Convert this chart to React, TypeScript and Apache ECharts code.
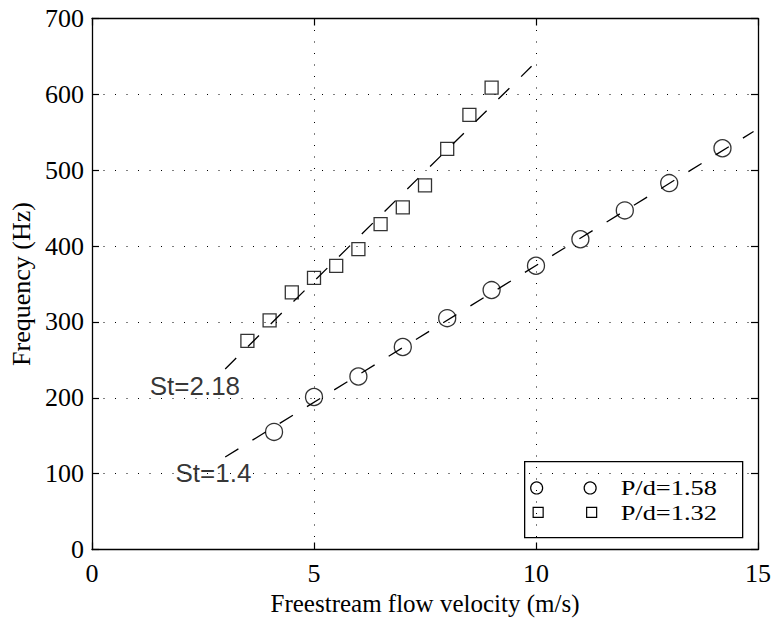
import React, { useEffect, useRef } from "react";
import * as echarts from "echarts";

// P/d = 1.58 (circles): [velocity m/s, frequency Hz]
const circlePoints: number[][] = [
  [4.1, 155], [5, 201], [6, 228], [7, 267], [8, 305], [9, 342],
  [10, 374], [11, 409], [12, 447], [13, 483], [14.2, 529],
];
// P/d = 1.32 (squares)
const squarePoints: number[][] = [
  [3.5, 275], [4, 302], [4.5, 339], [5, 358], [5.5, 374], [6, 396],
  [6.5, 429], [7, 451], [7.5, 480], [8, 528], [8.5, 573], [9, 609],
];
// Strouhal fit lines
const fitSt140: number[][] = [[3, 122], [14.9, 551]];
const fitSt218: number[][] = [[3, 238], [9.9, 637]];
// annotation anchors (data coords)
const annotations: { text: string; at: number[] }[] = [
  { text: "St=2.18", at: [1.3, 215] },
  { text: "St=1.4", at: [1.88, 101] },
];
const legendLabels = ["P/d=1.58", "P/d=1.32"];
const xTitle = "Freestream flow velocity (m/s)";
const yTitle = "Frequency (Hz)";

const SERIF = "'Liberation Serif', 'Times New Roman', serif";
const SANS = "'Liberation Sans', Arial, sans-serif";

export default function App() {
  const ref = useRef<HTMLDivElement>(null);
  useEffect(() => {
    document.body.style.margin = "0";
    const chart = echarts.init(ref.current!, null, { renderer: "svg" });
    const axisLineStyle = { color: "#000", width: 1.3 };
    const dotted = { color: "#000", width: 1, type: [1, 10.5] as any };
    const tickStyle = { show: true, inside: true, length: 7, lineStyle: { color: "#000", width: 1.2 } };
    const legX = 524, legY = 461, legW = 218, legH = 76;
    const option: any = {
      animation: false,
      backgroundColor: "#fff",
      grid: { left: 89, right: 17, top: 18.5, bottom: 75.5, containLabel: false },
      xAxis: [
        {
          type: "value", min: 0, max: 15, interval: 5, position: "bottom",
          axisLine: { show: true, onZero: false, lineStyle: axisLineStyle },
          axisTick: tickStyle,
          splitLine: { show: true, lineStyle: dotted },
          axisLabel: { color: "#000", fontFamily: SERIF, fontSize: 26, margin: 11 },
          name: xTitle, nameLocation: "middle", nameGap: 41,
          nameTextStyle: { color: "#000", fontFamily: SERIF, fontSize: 25 },
        },
        {
          type: "value", min: 0, max: 15, interval: 5, position: "top",
          axisLine: { show: true, onZero: false, lineStyle: axisLineStyle },
          axisTick: tickStyle, axisLabel: { show: false }, splitLine: { show: false },
        },
      ],
      yAxis: [
        {
          type: "value", min: 0, max: 700, interval: 100, position: "left",
          axisLine: { show: true, onZero: false, lineStyle: axisLineStyle },
          axisTick: tickStyle,
          splitLine: { show: true, lineStyle: dotted },
          axisLabel: { color: "#000", fontFamily: SERIF, fontSize: 26, margin: 8 },
          name: yTitle, nameLocation: "middle", nameGap: 58,
          nameTextStyle: { color: "#000", fontFamily: SERIF, fontSize: 26 },
        },
        {
          type: "value", min: 0, max: 700, interval: 100, position: "right",
          axisLine: { show: true, onZero: false, lineStyle: axisLineStyle },
          axisTick: tickStyle, axisLabel: { show: false }, splitLine: { show: false },
        },
      ],
      series: [
        {
          type: "line", data: fitSt140, symbol: "none", silent: true,
          lineStyle: { color: "#000", width: 1.3, type: [15.5, 16.5] },
        },
        {
          type: "line", data: fitSt218, symbol: "none", silent: true,
          lineStyle: { color: "#000", width: 1.3, type: [15.5, 16.5] },
        },
        {
          type: "scatter", name: legendLabels[0], data: circlePoints, symbol: "circle", symbolSize: 17,
          itemStyle: { color: "rgba(0,0,0,0)", borderColor: "#000", borderWidth: 1.3 },
        },
        {
          type: "scatter", name: legendLabels[1], data: squarePoints, symbol: "rect", symbolSize: 13,
          itemStyle: { color: "rgba(0,0,0,0)", borderColor: "#000", borderWidth: 1.3 },
        },
        {
          type: "scatter", silent: true, symbolSize: 0,
          data: annotations.map((a) => ({ value: a.at, name: a.text })),
          label: {
            show: true, position: "right", distance: 0, formatter: (p: any) => p.name,
            color: "#000", fontFamily: SANS, fontSize: 26,
          },
        },
      ],
      graphic: [
        {
          type: "group", left: legX, top: legY,
          children: [
            { type: "rect", shape: { x: 0, y: 0, width: legW, height: legH }, style: { fill: "#fff", stroke: "#000", lineWidth: 1.3 } },
            { type: "circle", shape: { cx: 12, cy: 26.3, r: 6 }, style: { fill: "none", stroke: "#000", lineWidth: 1.2 } },
            { type: "circle", shape: { cx: 65.5, cy: 26.3, r: 6 }, style: { fill: "none", stroke: "#000", lineWidth: 1.2 } },
            { type: "rect", shape: { x: 8.5, y: 45.7, width: 10, height: 10 }, style: { fill: "none", stroke: "#000", lineWidth: 1.2 } },
            { type: "rect", shape: { x: 62, y: 45.7, width: 10, height: 10 }, style: { fill: "none", stroke: "#000", lineWidth: 1.2 } },
            {
              type: "text", x: 96, y: 25.5, scaleX: 1.2,
              style: { text: legendLabels[0], fill: "#000", font: `22px ${SERIF}`, verticalAlign: "middle" },
            },
            {
              type: "text", x: 96, y: 50.5, scaleX: 1.2,
              style: { text: legendLabels[1], fill: "#000", font: `22px ${SERIF}`, verticalAlign: "middle" },
            },
          ],
        },
      ],
    };
    chart.setOption(option);
    return () => chart.dispose();
  }, []);
  return <div ref={ref} style={{ width: 775, height: 625 }} />;
}
